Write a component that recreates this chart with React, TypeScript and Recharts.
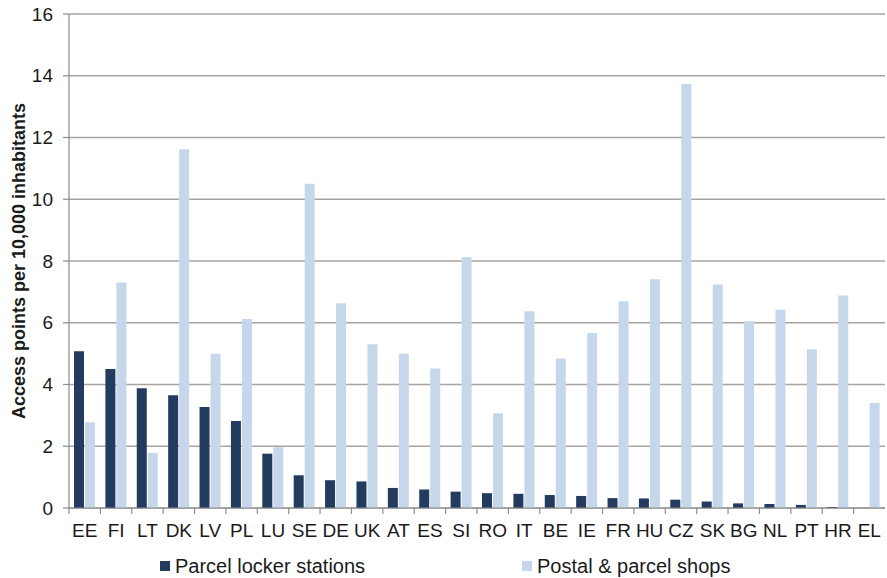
import React from "react";
import { BarChart, Bar, XAxis, YAxis, CartesianGrid, Legend } from "recharts";

const countries = ["EE", "FI", "LT", "DK", "LV", "PL", "LU", "SE", "DE", "UK", "AT", "ES", "SI", "RO", "IT", "BE", "IE", "FR", "HU", "CZ", "SK", "BG", "NL", "PT", "HR", "EL"];
const lockerStations = [5.08, 4.5, 3.88, 3.65, 3.27, 2.82, 1.76, 1.06, 0.9, 0.86, 0.65, 0.6, 0.53, 0.48, 0.46, 0.42, 0.39, 0.32, 0.31, 0.27, 0.21, 0.15, 0.13, 0.1, 0.03, 0];
const parcelShops = [2.78, 7.3, 1.78, 11.62, 5.0, 6.12, 1.97, 10.5, 6.63, 5.3, 5.0, 4.52, 8.12, 3.07, 6.37, 4.84, 5.67, 6.7, 7.41, 13.73, 7.24, 6.05, 6.42, 5.14, 6.88, 3.4];
const yTicks = [0, 2, 4, 6, 8, 10, 12, 14, 16];

const data = countries.map((c, i) => ({ country: c, locker: lockerStations[i], shops: parcelShops[i] }));

const DARK = "#223b5e";
const LIGHT = "#c6d7eb";
const FONT = "'Liberation Sans', Arial, sans-serif";

// category label + boundary tick mark (ticks sit between categories)
const CountryTick = (props: any) => {
  const { x, y, payload, width } = props;
  const band = width / countries.length;
  return (
    <g>
      <line x1={x - band / 2} x2={x - band / 2} y1={y} y2={y + 6} stroke="#8c8c8c" strokeWidth={1.2} />
      <text x={x} y={y + 29} textAnchor="middle" fontSize={19} fill="#1a1a1a" fontFamily={FONT}>
        {payload.value}
      </text>
    </g>
  );
};

const YLabel = (props: any) => {
  const { viewBox } = props;
  const cx = 19;
  const cy = viewBox.y + viewBox.height / 2;
  return (
    <text
      x={cx}
      y={cy}
      transform={`rotate(-90 ${cx} ${cy})`}
      textAnchor="middle"
      dominantBaseline="central"
      fontSize={18}
      fontWeight="bold"
      fill="#1a1a1a"
      fontFamily={FONT}
    >
      Access points per 10,000 inhabitants
    </text>
  );
};

const LegendBox = () => (
  <div style={{ position: "relative", height: 36, width: 887, fontFamily: FONT, fontSize: 20, color: "#1a1a1a" }}>
    <div style={{ position: "absolute", left: 160, top: 14, display: "flex", alignItems: "center", lineHeight: 1 }}>
      <span style={{ width: 10, height: 10, background: DARK, marginRight: 5, display: "inline-block" }} />
      Parcel locker stations
    </div>
    <div style={{ position: "absolute", left: 522, top: 14, display: "flex", alignItems: "center", lineHeight: 1 }}>
      <span style={{ width: 10, height: 10, background: LIGHT, marginRight: 5, display: "inline-block" }} />
      Postal &amp; parcel shops
    </div>
  </div>
);

export default function App() {
  return (
    <div style={{ position: "absolute", left: 0, top: 0, width: 887, height: 578, background: "#fff" }}>
      <BarChart
        width={887}
        height={578}
        data={data}
        margin={{ top: 14, right: 2, bottom: 0, left: 0 }}
        barSize={10}
        barGap={1}
      >
        <CartesianGrid vertical={false} stroke="#a9a39e" strokeWidth={1.3} />
        <XAxis
          dataKey="country"
          interval={0}
          height={34}
          tickLine={false}
          tickSize={0}
          tickMargin={0}
          axisLine={{ stroke: "#8c8c8c", strokeWidth: 1.2 }}
          tick={<CountryTick />}
        />
        <YAxis
          width={69}
          domain={[0, 16]}
          ticks={yTicks}
          interval={0}
          tickSize={6}
          tickMargin={10}
          tickLine={{ stroke: "#8c8c8c", strokeWidth: 1.2 }}
          axisLine={{ stroke: "#8c8c8c", strokeWidth: 1.2 }}
          tick={{ fontSize: 19, fill: "#1a1a1a", fontFamily: FONT }}
          label={<YLabel />}
        />
        <Legend verticalAlign="bottom" height={36} wrapperStyle={{ left: 0, width: 887 }} content={() => <LegendBox />} />
        <Bar dataKey="locker" name="Parcel locker stations" fill={DARK} isAnimationActive={false} />
        <Bar dataKey="shops" name="Postal & parcel shops" fill={LIGHT} isAnimationActive={false} />
      </BarChart>
    </div>
  );
}
